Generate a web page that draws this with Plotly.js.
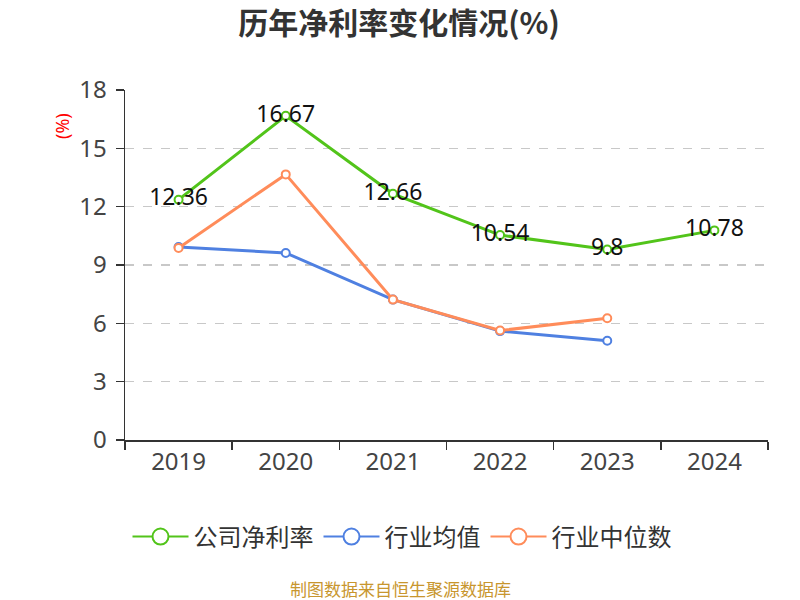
<!DOCTYPE html>
<html>
<head>
<meta charset="utf-8">
<script src="https://cdn.plot.ly/plotly-3.0.1.min.js"></script>
<style>html,body{margin:0;padding:0;background:#fff;}#chart{width:800px;height:600px;}</style>
</head>
<body>
<div id="chart"></div>
<script>
const years = ['2019', '2020', '2021', '2022', '2023', '2024'];
const companyNet = [12.36, 16.67, 12.66, 10.54, 9.8, 10.78];
const industryAvg = [9.93, 9.62, 7.22, 5.6, 5.1, null];
const industryMedian = [9.88, 13.66, 7.22, 5.63, 6.26, null];
const seriesNames = ['公司净利率', '行业均值', '行业中位数'];
const yTicks = [0, 3, 6, 9, 12, 15, 18];

const FONT = '"Noto Sans", "Noto Sans CJK SC", sans-serif';
const CJK = '"Noto Sans CJK SC", "Noto Sans", sans-serif';
const colors = ['#52c41a', '#4f80e1', '#ff8c5a'];

function mk(y, i, withText) {
  return {
    x: years, y: y, name: seriesNames[i], type: 'scatter', showlegend: false,
    mode: withText ? 'lines+markers+text' : 'lines+markers',
    text: withText ? y.map(v => v == null ? '' : String(v)) : undefined,
    textposition: 'middle center',
    textfont: {family: FONT, size: 23, color: '#111'},
    line: {color: colors[i], width: 3},
    marker: {symbol: 'circle', size: 8, color: '#fff', line: {color: colors[i], width: 2}},
    connectgaps: false,
    cliponaxis: false
  };
}
function legendItem(i) {
  return {
    x: [null], y: [null], name: seriesNames[i], type: 'scatter', mode: 'lines+markers',
    line: {color: colors[i], width: 2},
    marker: {symbol: 'circle', size: 16, color: '#fff', line: {color: colors[i], width: 2}},
    showlegend: true, hoverinfo: 'skip'
  };
}

const data = [mk(industryAvg, 1, false), mk(industryMedian, 2, false), mk(companyNet, 0, true),
              legendItem(0), legendItem(1), legendItem(2)];

const layout = {
  width: 800, height: 600,
  margin: {l: 125, r: 32, t: 90, b: 160},
  paper_bgcolor: '#fff', plot_bgcolor: '#fff',
  font: {family: FONT, color: '#333'},
  title: {text: '<b>历年净利率变化情况(%)</b>', x: (399 - 0) / 800, xanchor: 'center', y: 1 - 23 / 600, yanchor: 'middle',
          font: {family: CJK, size: 30, color: '#333'}},
  xaxis: {
    type: 'category', range: [-0.5, 5.5], tickson: 'boundaries', ticks: 'outside', ticklen: 8, tickcolor: '#333', tickwidth: 1.5,
    showline: true, linecolor: '#333', linewidth: 1.5, showgrid: false,
    tickfont: {family: FONT, size: 24, color: '#444'}, fixedrange: true
  },
  yaxis: {
    range: [0, 18], tickvals: yTicks, ticktext: yTicks.map(String),
    ticks: 'outside', ticklen: 8, tickcolor: '#333', tickwidth: 1.5, ticklabelstandoff: 4,
    showline: true, linecolor: '#333', linewidth: 1.5,
    showgrid: true, gridcolor: '#c8c8c8', griddash: 'dash', gridwidth: 1.5,
    zeroline: false,
    tickfont: {family: FONT, size: 24, color: '#444'}
  },
  showlegend: true,
  legend: {orientation: 'h', x: (402 - 125) / 643, xanchor: 'center', y: -0.277, yanchor: 'middle',
           font: {family: CJK, size: 24, color: '#333'}, itemwidth: 56, traceorder: 'normal'},
  annotations: [
    {text: '(%)', xref: 'paper', yref: 'paper', x: (62 - 125) / 643, y: (440 - 126) / 350,
     xanchor: 'center', yanchor: 'middle', textangle: -90, showarrow: false,
     font: {family: FONT, size: 18, color: '#ff0000'}},
    {text: '制图数据来自恒生聚源数据库', xref: 'paper', yref: 'paper', x: (400 - 125) / 643, y: -148 / 350,
     xanchor: 'center', yanchor: 'middle', showarrow: false,
     font: {family: CJK, size: 17, color: '#c8962e'}}
  ]
};

Plotly.newPlot('chart', data, layout, {staticPlot: true, displayModeBar: false});
</script>
</body>
</html>
